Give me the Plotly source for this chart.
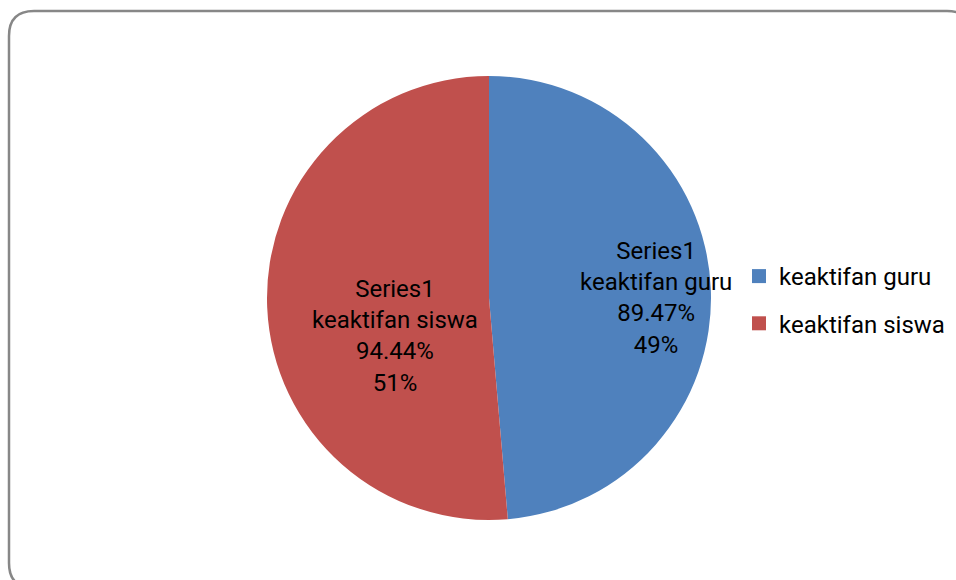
import math
import plotly.graph_objects as go

categories = ["keaktifan guru", "keaktifan siswa"]
values = [89.47, 94.44]
series_name = "Series1"
colors = ["#4F81BD", "#C0504D"]

W, H = 956, 580
FONT = "Roboto"
FS = 24

# pie geometry (pixels)
CX, CY, RAD = 489, 298, 222
# label placement style: radial fraction and angular shift (deg) per slice
label_rfrac = [0.752, 0.455]
label_shift = [2.4, -19.7]

fig = go.Figure()

fig.add_trace(go.Pie(
    labels=categories,
    values=values,
    sort=False,
    direction="clockwise",
    rotation=0,
    marker=dict(colors=colors, line=dict(width=0)),
    textinfo="none",
    showlegend=False,
    hoverinfo="skip",
    domain=dict(x=[(CX - RAD) / W, (CX + RAD) / W],
                y=[(H - CY - RAD) / H, (H - CY + RAD) / H]),
))

# data labels derived from values
total = sum(values)
annotations = []
start = 0.0
for i, (cat, v) in enumerate(zip(categories, values)):
    span = v / total * 360.0
    mid = start + span / 2 + label_shift[i]
    start += span
    a = math.radians(mid)
    x = CX + RAD * label_rfrac[i] * math.sin(a)
    y = CY - RAD * label_rfrac[i] * math.cos(a)
    text = f"{series_name}<br>{cat}<br>{v:.2f}%<br>{round(v / total * 100):.0f}%"
    annotations.append(dict(
        x=x / W, y=1 - y / H, xref="paper", yref="paper",
        text=text, showarrow=False, align="center",
        xanchor="center", yanchor="middle",
        font=dict(family=FONT, size=FS, color="black"),
    ))

# legend entries
for cat, col in zip(categories, colors):
    fig.add_trace(go.Scatter(
        x=[None], y=[None], mode="markers", name=cat,
        marker=dict(symbol="square", size=14, color=col),
        legendgroup=cat, showlegend=True,
    ))

def px(x):
    return x / W

def py(y):
    return 1 - y / H

L, T, R, B, r = 9, 11, 972, 588, 25
path = (
    f"M {px(L + r)},{py(T)} L {px(R - r)},{py(T)} "
    f"Q {px(R)},{py(T)} {px(R)},{py(T + r)} "
    f"L {px(R)},{py(B - r)} Q {px(R)},{py(B)} {px(R - r)},{py(B)} "
    f"L {px(L + r)},{py(B)} Q {px(L)},{py(B)} {px(L)},{py(B - r)} "
    f"L {px(L)},{py(T + r)} Q {px(L)},{py(T)} {px(L + r)},{py(T)} Z"
)

fig.update_layout(
    width=W, height=H,
    margin=dict(l=0, r=0, t=0, b=0),
    paper_bgcolor="white",
    plot_bgcolor="white",
    xaxis=dict(visible=False),
    yaxis=dict(visible=False),
    font=dict(family=FONT, size=FS, color="black"),
    legend=dict(x=739 / W, y=1 - 300 / H, xanchor="left", yanchor="middle",
                font=dict(family=FONT, size=FS, color="black"),
                tracegroupgap=13, itemsizing="trace",
                bgcolor="rgba(0,0,0,0)"),
    annotations=annotations,
    shapes=[dict(type="path", path=path, xref="paper", yref="paper",
                 line=dict(color="#878787", width=2.5), layer="above")],
)

fig.write_html("out.html")
